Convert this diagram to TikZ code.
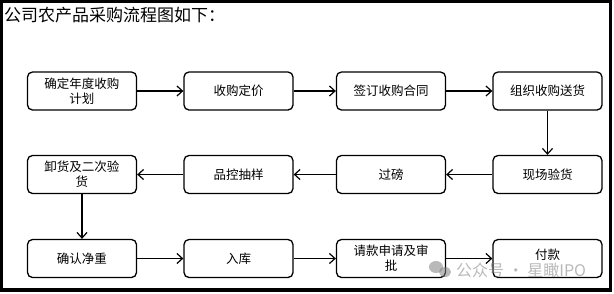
\documentclass[tikz,border=0pt]{standalone}
\usepackage{fontspec}
\newfontfamily\cjk{Noto Sans CJK SC}
\usetikzlibrary{arrows.meta}
\tikzset{
  stepbox/.style={draw, line width=1.3pt, rounded corners=5pt, minimum width=109pt, minimum height=38pt, inner sep=2pt, align=center, font=\cjk\fontsize{12.5}{15}\selectfont, text width=96pt},
  flow/.style={line width=1.2pt, -{Straight Barb[length=5.5pt,width=10pt,line width=1.2pt]}},
}
\begin{document}
\begin{tikzpicture}[x=1pt,y=-1pt]
\useasboundingbox (0,0) rectangle (614,293);
\fill[white] (0,0) rectangle (614,293);
\draw[line width=3.5pt] (1.5,1.5) rectangle (610.5,290);
\node[anchor=west, font=\cjk\fontsize{17}{20}\selectfont, inner sep=0pt] (title) at (4,15) {公司农产品采购流程图如下：};
% row 1
\node[stepbox] (b1) at (82,91) {确定年度收购\\计划};
\node[stepbox] (b2) at (238.5,91) {收购定价};
\node[stepbox] (b3) at (391,91) {签订收购合同};
\node[stepbox] (b4) at (547.5,91) {组织收购送货};
% row 2
\node[stepbox] (b5) at (547.5,174.5) {现场验货};
\node[stepbox] (b6) at (391,174.5) {过磅};
\node[stepbox] (b7) at (238.5,174.5) {品控抽样};
\node[stepbox] (b8) at (82,174.5) {卸货及二次验\\货};
% row 3
\node[stepbox] (b9) at (82,258.5) {确认净重};
\node[stepbox] (b10) at (238.5,258.5) {入库};
\node[stepbox] (b11) at (391,258.5) {请款申请及审\\批};
\node[stepbox, text depth=9pt] (b12) at (547.5,258.5) {付款};
\draw[flow] (b1) -- (b2);
\draw[flow] (b2) -- (b3);
\draw[flow] (b3) -- (b4);
\draw[flow] (b4) -- (b5);
\draw[flow] (b5) -- (b6);
\draw[flow] (b6) -- (b7);
\draw[flow] (b7) -- (b8);
\draw[flow] (b8) -- (b9);
\draw[flow] (b9) -- (b10);
\draw[flow] (b10) -- (b11);
\draw[flow] (b11) -- (b12);
% watermark
\begin{scope}[opacity=0.55]
\fill[gray] (436,267) ellipse (7pt and 6pt);
\fill[gray] (445,272) ellipse (6pt and 5pt);
\node[anchor=west, text=gray, font=\cjk\fontsize{16}{18}\selectfont, inner sep=0pt] (wm) at (456,270.5) {公众号 · 星瞰IPO};
\end{scope}
\end{tikzpicture}
\end{document}
